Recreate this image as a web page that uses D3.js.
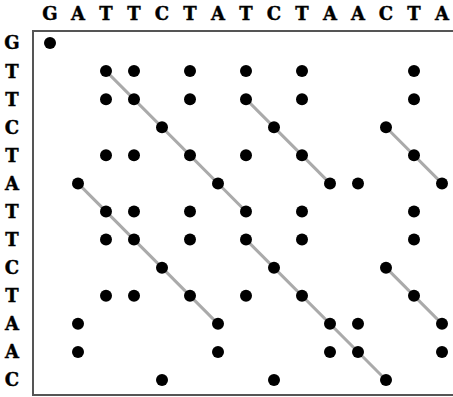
<!DOCTYPE html>
<html>
<head>
<meta charset="utf-8">
<script src="https://cdn.jsdelivr.net/npm/d3@7"></script>
<style>
  body { margin: 0; background: #fff; }
  svg { display: block; }
</style>
</head>
<body>
<svg id="dotplot" width="453" height="397"></svg>
<script>
// sequences being compared
const topSeq = ["G","A","T","T","C","T","A","T","C","T","A","A","C","T","A"];
const leftSeq = ["G","T","T","C","T","A","T","T","C","T","A","A","C"];

// diagonal runs drawn in gray: [start row, start col, length]
const runs = [
  [1, 2, 6],
  [2, 7, 4],
  [3, 12, 3],
  [5, 1, 6],
  [7, 7, 6],
  [8, 12, 3]
];

let svg = d3.select("#dotplot");

let x = d3.scalePoint()
  .domain(d3.range(topSeq.length))
  .range([50, 442]);
let y = d3.scalePoint()
  .domain(d3.range(leftSeq.length))
  .range([43, 380]);

svg.append("rect")
  .attr("x", 33)
  .attr("y", 31)
  .attr("width", 430)
  .attr("height", 364)
  .attr("fill", "none")
  .attr("stroke", "#555")
  .attr("stroke-width", 2);

// letters
svg.selectAll(".top-label")
  .data(topSeq)
  .enter()
  .append("text")
  .attr("class", "top-label")
  .attr("x", (d, i) => x(i))
  .attr("y", 20)
  .attr("text-anchor", "middle")
  .style("font-family", "'DejaVu Serif'")
  .style("font-weight", "bold")
  .style("font-size", "18px")
  .style("stroke", "#000")
  .style("stroke-width", 0.4)
  .text((d) => d);

svg.selectAll(".left-label")
  .data(leftSeq)
  .enter()
  .append("text")
  .attr("class", "left-label")
  .attr("x", 12)
  .attr("y", (d, i) => y(i))
  .attr("dy", "0.36em")
  .attr("text-anchor", "middle")
  .style("font-family", "'DejaVu Serif'")
  .style("font-weight", "bold")
  .style("font-size", "18px")
  .style("stroke", "#000")
  .style("stroke-width", 0.4)
  .text((d) => d);

svg.selectAll(".run")
  .data(runs)
  .enter()
  .append("line")
  .attr("class", "run")
  .attr("x1", (d) => x(d[1]))
  .attr("y1", (d) => y(d[0]))
  .attr("x2", (d) => x(d[1] + d[2] - 1))
  .attr("y2", (d) => y(d[0] + d[2] - 1))
  .attr("stroke", "#aaa")
  .attr("stroke-width", 3);

// a dot wherever the two letters match
let matches = [];
leftSeq.forEach((a, i) => {
  topSeq.forEach((b, j) => {
    if (a === b) matches.push([i, j]);
  });
});

svg.selectAll(".dot")
  .data(matches)
  .enter()
  .append("circle")
  .attr("class", "dot")
  .attr("cx", (d) => x(d[1]))
  .attr("cy", (d) => y(d[0]))
  .attr("r", 6)
  .attr("fill", "#000");
</script>
</body>
</html>
